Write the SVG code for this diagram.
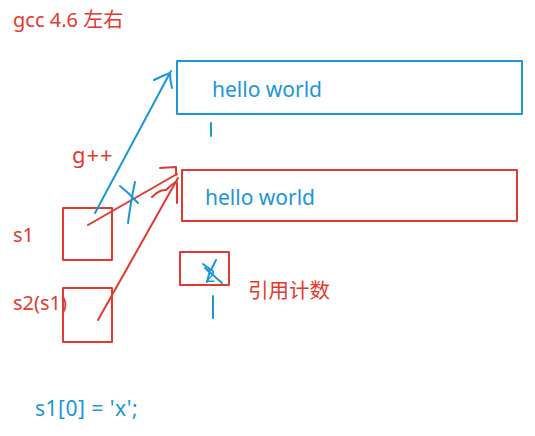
<svg xmlns="http://www.w3.org/2000/svg" width="535" height="436" viewBox="0 0 535 436">
<style>
.r{fill:#e23a2e;font-family:"Noto Sans","Noto Sans CJK SC",sans-serif}
.b{fill:#1c97d6;font-family:"Noto Sans","Noto Sans CJK SC",sans-serif}
.rs{fill:none;stroke:#e23a2e;stroke-width:2;stroke-linecap:round;stroke-linejoin:round}
.bs{fill:none;stroke:#1c97d6;stroke-width:2;stroke-linecap:round;stroke-linejoin:round}
</style>
<rect width="535" height="436" fill="#fefefe"/>
<text class="r" x="13" y="27" font-size="20">gcc 4.6 左右</text>
<g id="blue-buf">
<rect class="bs" x="177" y="61" width="345" height="53"/>
<text class="b" x="212" y="97" font-size="21">hello world</text>
<line class="bs" x1="211" y1="123" x2="211" y2="136"/>
</g>
<g id="red-buf">
<rect class="rs" x="182" y="170" width="335" height="51"/>
<text class="b" x="205" y="205" font-size="21">hello world</text>
</g>
<g id="s1">
<text class="r" x="13" y="242" font-size="20">s1</text>
<rect class="rs" x="63" y="208" width="49" height="52"/>
</g>
<g id="s2">
<text class="r" x="13" y="310" font-size="20">s2(s1)</text>
<rect class="rs" x="63" y="288" width="49" height="54"/>
</g>
<g id="refcount">
<rect class="rs" x="180" y="252" width="49" height="33"/>
<text class="b" x="205" y="282" font-size="18">2</text>
<path class="bs" d="M203 264 L211 270 L216 260 M210 270 L207 282 M205 268 L222 283" stroke-width="1.5"/>
<text class="r" x="248" y="298" font-size="20.5">引用计数</text>
<line class="bs" x1="213" y1="296" x2="213" y2="318"/>
</g>
<g id="connectors">
<path class="bs" d="M95 213 L171 71"/>
<path class="bs" d="M154 80 Q162 76 170 73 Q170 80 172 88"/>
<path class="rs" d="M88 225 L177 174"/>
<path class="rs" d="M160 168 L176 167 L176 175"/>
<path class="rs" d="M98 320 L178 178"/>
<path class="rs" d="M177 183 L177 203"/>
<path class="rs" d="M152 197 Q160 189 166 190 Q171 185 177 181" stroke-width="1.3"/>
<path class="bs" d="M120 186 Q129 193 138 203" stroke-width="1.5"/>
<path class="bs" d="M135 182 Q131 200 128 223" stroke-width="1.5"/>
</g>
<text class="r" x="72" y="163" font-size="22" letter-spacing="1">g++</text>
<text class="b" x="35" y="416" font-size="21" letter-spacing="0.5">s1[0] = 'x';</text>
</svg>
